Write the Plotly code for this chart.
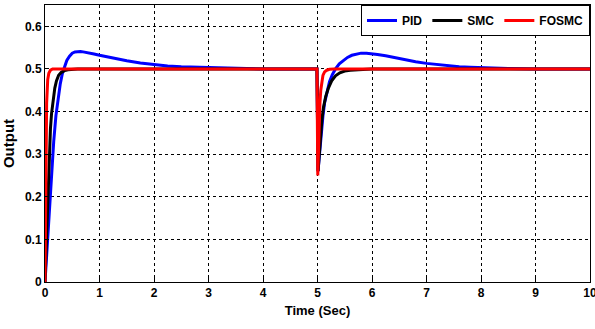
import plotly.graph_objects as go

# ---- data ----
pid_t = [0, 0.02, 0.04, 0.06, 0.08, 0.1, 0.13, 0.16, 0.2, 0.24, 0.28, 0.32, 0.36, 0.4, 0.45,
         0.5, 0.55, 0.6, 0.65, 0.7, 0.8, 0.9, 1.0, 1.15, 1.3, 1.5, 1.75, 2.0, 2.25, 2.5, 2.75,
         3.0, 3.5, 4.0, 4.99, 5.01, 5.03, 5.05, 5.07, 5.1, 5.13, 5.17, 5.22, 5.27, 5.33, 5.4,
         5.47, 5.55, 5.63, 5.72, 5.8, 5.9, 6.0, 6.1, 6.25, 6.4, 6.6, 6.8, 7.0, 7.2, 7.4, 7.6,
         7.8, 8.0, 8.5, 9.0, 10.0]
pid_y = [0, 0.04, 0.09, 0.14, 0.18, 0.22, 0.28, 0.33, 0.39, 0.43, 0.465, 0.49, 0.507, 0.52, 0.53,
         0.537, 0.54, 0.541, 0.541, 0.54, 0.538, 0.535, 0.532, 0.528, 0.524, 0.519, 0.514, 0.51,
         0.507, 0.505, 0.504, 0.503, 0.501, 0.5, 0.5, 0.26, 0.29, 0.32, 0.35, 0.39, 0.42, 0.445,
         0.47, 0.486, 0.5, 0.512, 0.52, 0.527, 0.532, 0.535, 0.537, 0.537, 0.536, 0.534, 0.531,
         0.527, 0.522, 0.517, 0.513, 0.51, 0.507, 0.505, 0.504, 0.503, 0.501, 0.5, 0.5]

smc_t = [0, 0.02, 0.04, 0.06, 0.08, 0.1, 0.12, 0.15, 0.18, 0.21, 0.25, 0.3, 0.36, 0.42, 0.6,
         1.0, 4.99, 5.01, 5.03, 5.05, 5.08, 5.11, 5.15, 5.2, 5.26, 5.33, 5.41, 5.5, 5.6, 5.75,
         6.0, 10.0]
smc_y = [0, 0.08, 0.17, 0.25, 0.31, 0.36, 0.395, 0.43, 0.455, 0.472, 0.485, 0.492, 0.496, 0.498,
         0.5, 0.5, 0.5, 0.26, 0.3, 0.34, 0.38, 0.41, 0.435, 0.455, 0.472, 0.484, 0.491, 0.495,
         0.497, 0.498, 0.5, 0.5]

fosmc_t = [0, 0.01, 0.02, 0.03, 0.05, 0.07, 0.1, 0.14, 0.2, 4.99, 5.005, 5.015, 5.03, 5.045,
           5.06, 5.08, 5.1, 5.13, 5.17, 5.22, 5.3, 10.0]
fosmc_y = [0, 0.15, 0.32, 0.42, 0.475, 0.49, 0.497, 0.5, 0.5, 0.5, 0.25, 0.3, 0.37, 0.42, 0.45,
           0.472, 0.485, 0.493, 0.497, 0.499, 0.5, 0.5]

x_ticks = [0, 1, 2, 3, 4, 5, 6, 7, 8, 9, 10]
y_ticks = [0, 0.1, 0.2, 0.3, 0.4, 0.5, 0.6]

FONT = "Liberation Sans, Arial, sans-serif"

fig = go.Figure()
fig.add_trace(go.Scatter(x=pid_t, y=pid_y, mode="lines", name="<b>PID</b>",
                         line=dict(color="#0000ff", width=3)))
fig.add_trace(go.Scatter(x=smc_t, y=smc_y, mode="lines", name="<b>SMC</b>",
                         line=dict(color="#000000", width=3)))
fig.add_trace(go.Scatter(x=fosmc_t, y=fosmc_y, mode="lines", name="<b>FOSMC</b>",
                         line=dict(color="#ff0000", width=3)))

axis_common = dict(
    showline=True, linecolor="black", linewidth=1, mirror=True,
    showgrid=True, gridcolor="black", gridwidth=1, griddash="3px,3px",
    ticks="inside", ticklen=4, tickcolor="black",
    zeroline=False, automargin=False, ticklabeloverflow="allow",
    tickfont=dict(family=FONT, size=12, color="black"),
)

fig.update_layout(
    width=595, height=329,
    margin=dict(l=45, r=5, t=5, b=47, autoexpand=False),
    paper_bgcolor="white", plot_bgcolor="white",
    font=dict(family=FONT, color="black"),
    showlegend=True,
    legend=dict(orientation="h", x=1, xanchor="right", y=1, yanchor="top",
                bgcolor="white", bordercolor="black", borderwidth=1,
                font=dict(family=FONT, size=12, color="black"),
                tracegroupgap=0),
    xaxis=dict(range=[0, 10], tickvals=x_ticks,
               ticktext=[f"<b>{v}</b>" for v in x_ticks],
               title=dict(text="<b>Time (Sec)</b>", font=dict(family=FONT, size=13), standoff=6),
               **axis_common),
    yaxis=dict(range=[0, 0.65], tickvals=y_ticks,
               ticktext=[f"<b>{v:g}</b>" for v in y_ticks],
               title=dict(text="<b>Output</b>", font=dict(family=FONT, size=15), standoff=8),
               **axis_common),
)

fig.write_html("out.html", config={"displayModeBar": False},
               post_script="document.body.style.margin='0';")
